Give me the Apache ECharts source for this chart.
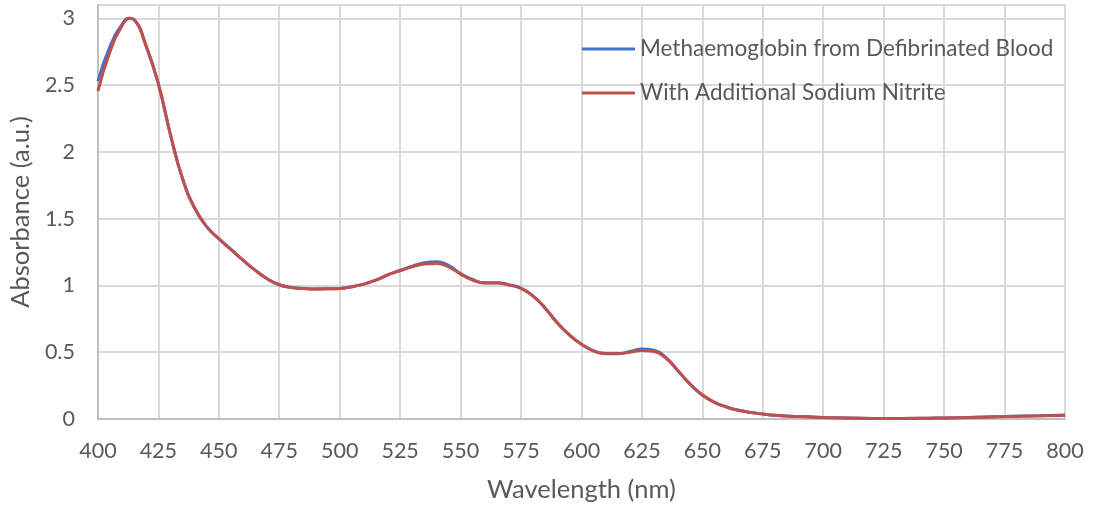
<!DOCTYPE html>
<html>
<head>
<meta charset="utf-8">
<script src="https://cdn.jsdelivr.net/npm/echarts@6/dist/echarts.min.js"></script>
<style>
html,body{margin:0;padding:0;background:#fff;}
#chart{width:1097px;height:508px;}
</style>
</head>
<body>
<div id="chart"></div>
<script>
var wavelengths = [400,405,410,413,415,420,425,430,435,440,445,450,455,460,465,470,475,480,485,490,495,500,505,510,515,520,525,530,535,540,545,550,555,560,565,570,575,580,585,590,595,600,605,610,615,620,625,630,635,640,645,650,655,660,665,670,675,680,690,700,710,725,740,750,760,775,790,800];
var methaemoglobin = [2.53,2.79,2.955,3.00,2.99,2.79,2.51,2.13,1.80,1.58,1.44,1.35,1.27,1.19,1.115,1.05,1.005,0.985,0.978,0.974,0.975,0.978,0.99,1.01,1.04,1.08,1.115,1.145,1.17,1.178,1.15,1.09,1.045,1.02,1.02,1.005,0.98,0.92,0.83,0.72,0.63,0.56,0.51,0.49,0.49,0.505,0.525,0.515,0.46,0.36,0.26,0.18,0.125,0.09,0.065,0.048,0.037,0.028,0.018,0.012,0.008,0.004,0.005,0.008,0.012,0.019,0.025,0.030];
var withNitrite = [2.455,2.75,2.945,3.00,2.99,2.79,2.51,2.13,1.80,1.58,1.44,1.35,1.27,1.19,1.115,1.05,1.005,0.985,0.978,0.974,0.975,0.978,0.99,1.01,1.04,1.08,1.11,1.14,1.16,1.165,1.14,1.085,1.04,1.018,1.018,1.003,0.978,0.92,0.83,0.72,0.63,0.56,0.51,0.488,0.488,0.50,0.512,0.505,0.455,0.36,0.26,0.18,0.125,0.09,0.065,0.048,0.037,0.028,0.018,0.012,0.008,0.004,0.005,0.008,0.012,0.018,0.024,0.027];
var seriesNames = ['Methaemoglobin from Defibrinated Blood','With Additional Sodium Nitrite'];
var xTitle = 'Wavelength (nm)';
var yTitle = 'Absorbance (a.u.)';

function pairs(xs, ys){ return xs.map(function(x,i){ return [x, ys[i]]; }); }

var FONT = 'Lato';
var TXT = '#595959';
var chart = echarts.init(document.getElementById('chart'));
chart.setOption({
  animation:false,
  backgroundColor:'#ffffff',
  grid:{left:97,right:32,top:5,bottom:87},
  legend:{
    orient:'vertical', left:582, top:36, padding:0,
    icon:'rect', itemWidth:53, itemHeight:3, itemGap:18,
    textStyle:{fontFamily:FONT,fontSize:22.5,color:TXT,lineHeight:26},
    data:seriesNames
  },
  xAxis:{
    type:'value', min:400, max:800, interval:25,
    name:xTitle, nameLocation:'middle', nameGap:58,
    nameTextStyle:{fontFamily:FONT,fontSize:25.5,color:TXT},
    axisLine:{show:true,lineStyle:{color:'#bfbfbf',width:2}},
    axisTick:{show:false},
    axisLabel:{fontFamily:FONT,fontSize:21.5,color:TXT,margin:21},
    splitLine:{show:true,lineStyle:{color:'#d9d9d9',width:2}}
  },
  yAxis:{
    type:'value', min:0, max:3.1, interval:0.5,
    name:yTitle, nameLocation:'middle', nameGap:60,
    nameTextStyle:{fontFamily:FONT,fontSize:25.5,color:TXT},
    axisLine:{show:true,lineStyle:{color:'#bfbfbf',width:2}},
    axisTick:{show:false},
    axisLabel:{fontFamily:FONT,fontSize:21.5,color:TXT,margin:23,showMaxLabel:false},
    splitLine:{show:true,lineStyle:{color:'#d9d9d9',width:2}}
  },
  series:[
    {name:seriesNames[0],type:'line',data:pairs(wavelengths,methaemoglobin),symbol:'none',smooth:0.5,lineStyle:{color:'#4472C4',width:3},itemStyle:{color:'#4472C4'}},
    {name:seriesNames[1],type:'line',data:pairs(wavelengths,withNitrite),symbol:'none',smooth:0.5,lineStyle:{color:'#C0504D',width:3},itemStyle:{color:'#C0504D'}}
  ]
});
</script>
</body>
</html>
